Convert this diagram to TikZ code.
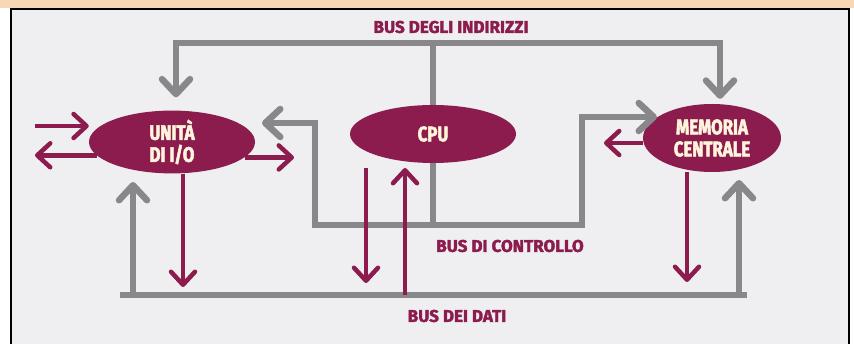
\documentclass[tikz,border=0pt]{standalone}
\usepackage{fontspec}
\newfontfamily\unitfont[FakeStretch=0.8,FakeBold=2.5]{Fira Sans}
\newfontfamily\labelfont[FakeStretch=1.0,FakeBold=2]{Fira Sans}
\usetikzlibrary{arrows.meta,calc,shapes.geometric}
\definecolor{busgrey}{HTML}{88888A}
\definecolor{wine}{HTML}{8C1C4E}
\definecolor{paper}{HTML}{EFEFF1}
\definecolor{peach}{HTML}{F8D7B4}
\definecolor{cream}{HTML}{FFF4DC}
\tikzset{
unit/.style={
  ellipse,
  fill=wine,
  text=cream,
  align=center,
  inner sep=0pt,
  font=\unitfont\bfseries\fontsize{21}{22}\selectfont
  },
buslabel/.style={
  text=wine,
  inner sep=0pt,
  font=\labelfont\bfseries\fontsize{17}{19}\selectfont
  }
}

\begin{document}
\begin{tikzpicture}[
    x=1pt,y=-1pt,
    bus/.style={
      draw=busgrey,
      line width=6.5pt,
      >={Straight Barb[length=15pt,width=28pt,round]}
      },
    flow/.style={
      draw=wine,
      line width=4.5pt,
      >={Straight Barb[length=13pt,width=24pt,round]}
      }
 ]
\useasboundingbox (0,0) rectangle (854,344);
\fill[white] (0,0) rectangle (854,344);
\fill[peach] (0,0) rectangle (854,8);
\fill[paper] (11,9) rectangle (849,344);
\draw[line width=2pt] (11,344) -- (11,9) -- (849,9) -- (849,344);

% units
\node[unit, minimum width=166pt, minimum height=58pt] (io) at (172,142) {UNITÀ\\DI I/O};
\node[unit, minimum width=166pt, minimum height=58pt] (cpu) at (433,134) {CPU};
\node[unit, minimum width=138pt, minimum height=68pt] (mem) at (712,138) {MEMORIA\\CENTRALE};

% bus labels
\node[buslabel] (addr) at (451,27) {BUS DEGLI INDIRIZZI};
\node[buslabel] (ctrl) at (510,246) {BUS DI CONTROLLO};
\node[buslabel] (data) at (457,316) {BUS DEI DATI};

% bus degli indirizzi
\coordinate (ab-l) at (176,43);
\coordinate (ab-r) at (720,43);
\draw[bus,<->,shorten <=13pt,shorten >=5pt] (ab-l |- io.north) -- (ab-l) -- (ab-r) -- (ab-r |- mem.north);
\draw[bus] (cpu.north) -- (cpu.north |- ab-l);

% bus di controllo
\coordinate (cb-l) at (315,225);
\coordinate (cb-r) at (582,225);
\coordinate (cb-io) at (262,123);
\coordinate (cb-mem) at (657,117);
\draw[bus,<->] (cb-io) -| (cb-l) -- (cb-r) |- (cb-mem);
\draw[bus] (cpu.south) -- (cpu.south |- cb-l);

% bus dei dati
\coordinate (db-l) at (120,295);
\coordinate (db-r) at (747,295);
\draw[bus] (db-l) -- (db-r);
\coordinate (io-up) at (133,182);
\coordinate (io-dn) at (183,287);
\coordinate (cpu-dn) at (366,283);
\coordinate (cpu-up) at (405,168);
\coordinate (mem-dn) at (687,282);
\coordinate (mem-up) at (739,180);
\draw[bus,->] (io-up |- db-l) -- (io-up);
\draw[flow,->] (io-dn |- io.south) -- (io-dn);
\draw[flow,->] (cpu-dn |- cpu-up) -- (cpu-dn);
\draw[flow,->] (cpu-up |- db-l) -- (cpu-up);
\draw[flow,->] (mem-dn |- mem.south) -- (mem-dn);
\draw[bus,->] (mem-up |- db-l) -- (mem-up);

% ingressi e uscite
\coordinate (io-in) at (35,126);
\coordinate (io-out) at (35,0);
\coordinate (io-r) at (294,0);
\coordinate (mem-l) at (604,143);
\draw[flow,->] (io-in) -- (io-in -| io.west);
\draw[flow,->] (io.190) -- (io.190 -| io-out);
\draw[flow,->] (io.-12) -- (io.-12 -| io-r);
\draw[flow,->] (mem.west |- mem-l) -- (mem-l);
\end{tikzpicture}
\end{document}
